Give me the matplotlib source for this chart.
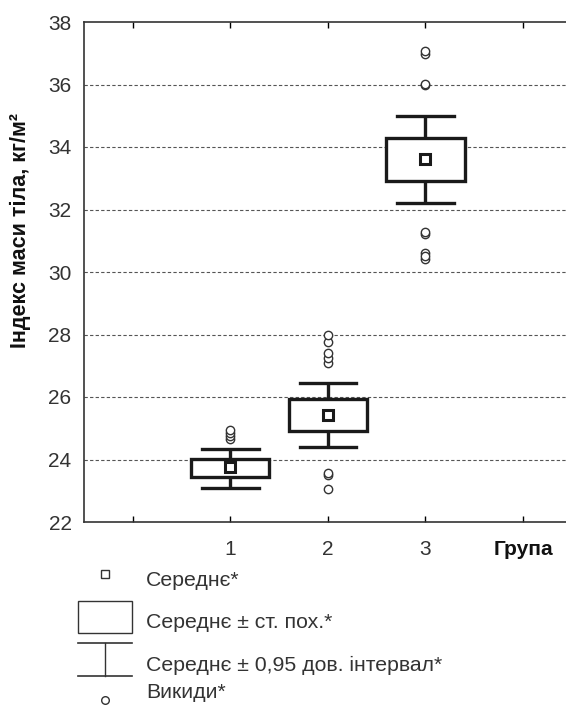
import numpy as np
import matplotlib
matplotlib.use("Agg")
import matplotlib.pyplot as plt
from matplotlib.patches import Rectangle

plt.rcParams['font.family'] = ['Liberation Sans', 'DejaVu Sans']

# group statistics
groups = [1, 2, 3]
means = [23.75, 25.42, 33.62]
se_low = [23.43, 24.90, 32.90]
se_high = [24.03, 25.95, 34.30]
ci_low = [23.10, 24.40, 32.20]
ci_high = [24.35, 26.45, 34.98]
outliers = [
    [24.65, 24.75, 24.85, 24.95],
    [27.10, 27.25, 27.40, 27.75, 27.97, 23.52, 23.58, 23.05],
    [36.98, 37.08, 35.98, 36.03, 31.22, 31.27, 30.62, 30.42, 30.52],
]
xtick_pos = [0, 1, 2, 3, 4]
xtick_labels = ['', '1', '2', '3', 'Група']
yticks = [22, 24, 26, 28, 30, 32, 34, 36, 38]

W, H = 566, 708
fig = plt.figure(figsize=(W / 100, H / 100), dpi=100)
ax = fig.add_axes([84 / W, 1 - 522 / H, 1 - 84 / W, 500 / H])

txt_col = '#333333'
lw = 2.4
box_w = 0.8
cap_w = 0.58

for g, m, lo, hi, clo, chi, outs in zip(groups, means, se_low, se_high, ci_low, ci_high, outliers):
    ax.add_patch(Rectangle((g - box_w / 2, lo), box_w, hi - lo, fill=True,
                           facecolor='white', edgecolor='#1a1a1a', lw=lw, zorder=3))
    ax.plot([g, g], [hi, chi], color='#1a1a1a', lw=lw, zorder=3, solid_capstyle='butt')
    ax.plot([g, g], [clo, lo], color='#1a1a1a', lw=lw, zorder=3, solid_capstyle='butt')
    ax.plot([g - cap_w / 2, g + cap_w / 2], [chi, chi], color='#1a1a1a', lw=lw, zorder=3)
    ax.plot([g - cap_w / 2, g + cap_w / 2], [clo, clo], color='#1a1a1a', lw=lw, zorder=3)
    ax.plot([g], [m], marker='s', ms=7, mfc='white', mec='#1a1a1a', mew=2.2, zorder=4)
    ax.plot([g] * len(outs), outs, linestyle='none', marker='o', ms=6, mfc='white',
            mec='#333333', mew=1.0, zorder=4)

ax.set_xlim(-0.5, 4.44)
ax.set_ylim(22, 38)
ax.set_yticks(yticks)
ax.set_yticklabels([str(v) for v in yticks], fontsize=15, color=txt_col)
ax.set_xticks(xtick_pos)
ax.set_xticklabels(xtick_labels, fontsize=15, color=txt_col)
lab = ax.get_xticklabels()[-1]
lab.set_fontweight('bold')
lab.set_color('#111111')
ax.tick_params(axis='x', direction='in', top=True, bottom=True, length=4, width=1, pad=13)
ax.tick_params(axis='y', direction='in', length=0, pad=9)

for v in yticks[1:-1]:
    ax.axhline(v, color='#555555', lw=0.8, ls=(0, (3, 2)), zorder=1)

ax.spines['right'].set_visible(False)
for s in ['left', 'top', 'bottom']:
    ax.spines[s].set_linewidth(1.2)
    ax.spines[s].set_color('#333333')

ax.set_ylabel('Індекс маси тіла, кг/м²', fontsize=15.5, fontweight='bold',
              color='#111111')
ax.yaxis.set_label_coords(-0.11, 0.582)

# legend drawn underneath in pixel coordinates
lax = fig.add_axes([0, 0, 1, 1], zorder=-1)
lax.set_xlim(0, W)
lax.set_ylim(H, 0)
lax.axis('off')
lcol = '#333333'
lax.plot([105], [574], marker='s', ms=6, mfc='white', mec=lcol, mew=1.0)
lax.add_patch(Rectangle((78, 601), 54, 32, fill=False, edgecolor=lcol, lw=1.0))
lax.plot([78, 132], [643, 643], color=lcol, lw=1.2)
lax.plot([78, 132], [676, 676], color=lcol, lw=1.2)
lax.plot([105, 105], [643, 676], color=lcol, lw=1.0)
lax.plot([105], [700], marker='o', ms=5.5, mfc='white', mec=lcol, mew=1.0)

leg_texts = ['Середнє*', 'Середнє ± ст. пох.*', 'Середнє ± 0,95 дов. інтервал*', 'Викиди*']
leg_y = [581, 622, 665, 693]
for t, y in zip(leg_texts, leg_y):
    lax.text(146, y, t, fontsize=15.3, color=txt_col, va='center', ha='left')

fig.savefig('out.png', dpi=100)
